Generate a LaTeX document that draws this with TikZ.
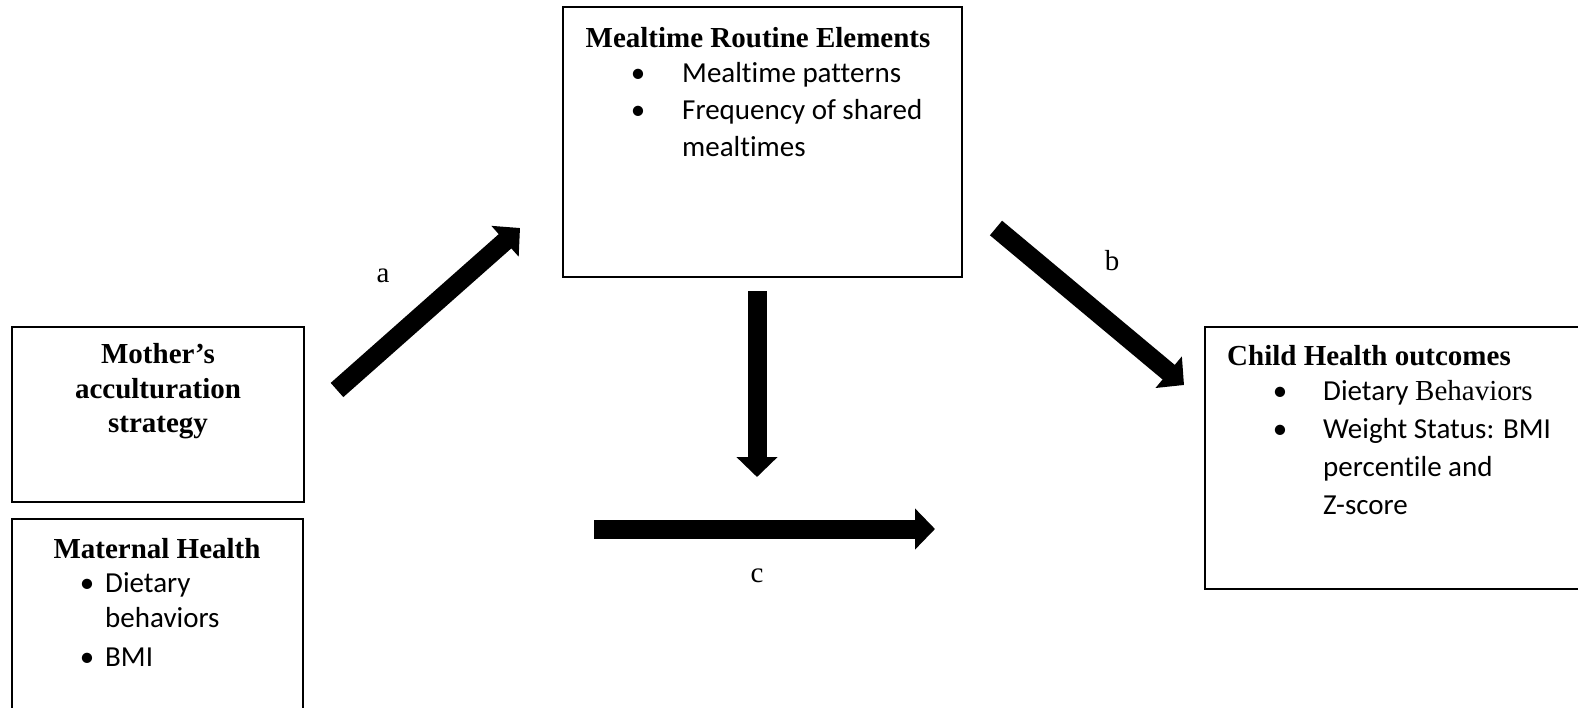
\documentclass[tikz,border=0pt]{standalone}
\usepackage{fontspec}
\setmainfont{Liberation Serif}
\newfontfamily\calfont[Ligatures=NoCommon]{Carlito}
\usetikzlibrary{arrows.meta}
\newcommand\fsz{\fontsize{29}{37}\selectfont}
\tikzset{
  box/.style={draw, line width=1.8pt, inner sep=0pt, outer sep=0pt, anchor=north west},
  ttl/.style={font=\fsz\bfseries, inner sep=0pt},
  itm/.style={font=\fsz\calfont, anchor=base west, inner sep=0pt},
  bul/.style={font=\fsz\calfont, anchor=base, inner sep=0pt},
  lbl/.style={font=\fsz, anchor=base, inner sep=0pt},
  fat/.style={line width=19pt, -{Triangle[length=20pt,width=40pt]}},
}
\begin{document}
\begin{tikzpicture}[x=1pt,y=-1pt]
\useasboundingbox (0,0) rectangle (1578,707);
\clip (0,0) rectangle (1578,707);
% boxes
\node[box, minimum width=292pt, minimum height=175pt] (mother) at (12,327) {};
\node[box, minimum width=291pt, minimum height=200pt] (maternal) at (12,519) {};
\node[box, minimum width=399pt, minimum height=270pt] (mealtime) at (563,7) {};
\node[box, minimum width=400pt, minimum height=262pt] (child) at (1205,327) {};
% mother text
\node[ttl, anchor=base] (m1) at (158,363) {Mother’s};
\node[ttl, anchor=base] (m2) at (158,398) {acculturation};
\node[ttl, anchor=base] (m3) at (158,432) {strategy};
% maternal text
\node[ttl, anchor=base] (h0) at (157,558) {Maternal Health};
\node[bul] (hb1) at (87,592) {•};
\node[itm] (h1) at (105,592) {Dietary};
\node[itm] (h2) at (105,627) {behaviors};
\node[bul] (hb2) at (87,666) {•};
\node[itm] (h3) at (105,666) {BMI};
% mealtime text
\node[ttl, anchor=base] (r0) at (758,47) {Mealtime Routine Elements};
\node[bul] (rb1) at (638,82) {•};
\node[itm] (r1) at (682,82) {Mealtime patterns};
\node[bul] (rb2) at (638,119) {•};
\node[itm] (r2) at (682,119) {Frequency of shared};
\node[itm] (r3) at (682,156) {mealtimes};
% child text
\node[ttl, anchor=base west] (c0) at (1227,365) {Child Health outcomes};
\node[bul] (cb1) at (1280,400) {•};
\node[itm] (c1) at (1323,400) {Dietary {\rmfamily Behaviors}};
\node[bul] (cb2) at (1280,438) {•};
\node[itm] (c2) at (1323,438) {Weight Status: BMI};
\node[itm] (c3) at (1323,476) {percentile and};
\node[itm] (c4) at (1323,514) {Z-score};
% connectors
\coordinate (atail) at (337,390);
\coordinate (atip) at (520,228);
\coordinate (btail) at (996,228);
\coordinate (btip) at (1184,385);
\coordinate (dtail) at (757,291);
\coordinate (dtip) at (757,477);
\coordinate (ctail) at (594,529);
\coordinate (ctip) at (935,529);
\draw[fat] (atail) -- (atip);
\draw[fat] (btail) -- (btip);
\draw[fat] (dtail) -- (dtip);
\draw[fat] (ctail) -- (ctip);
% labels
\node[lbl] (la) at (383,282) {a};
\node[lbl] (lb) at (1112,270) {b};
\node[lbl] (lc) at (757,582) {c};
\end{tikzpicture}
\end{document}
